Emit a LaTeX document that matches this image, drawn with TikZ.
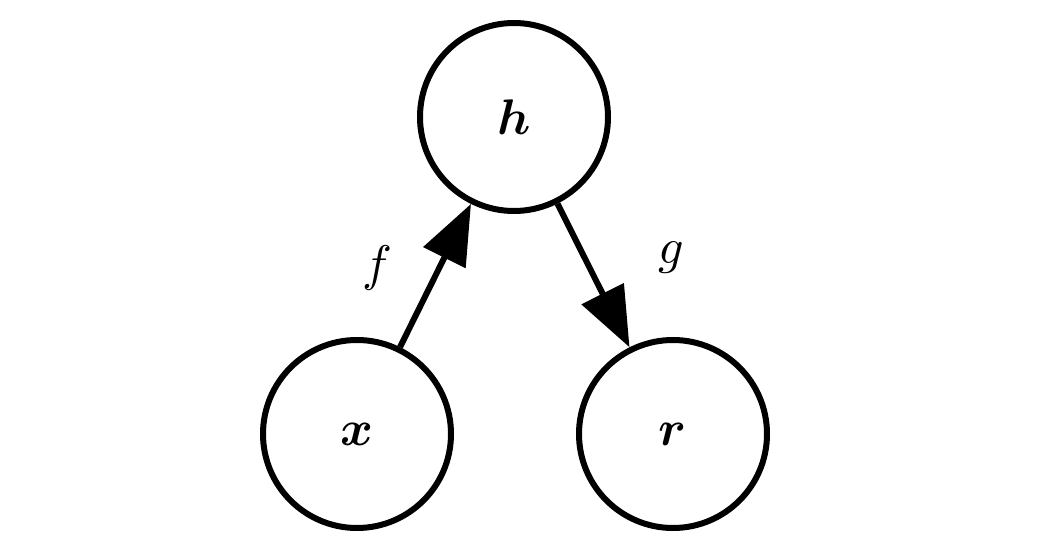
\documentclass[tikz,border=0pt]{standalone}
\usepackage{amsmath}
\usetikzlibrary{arrows.meta}
\begin{document}
\begin{tikzpicture}[x=1pt,y=-1pt,
  vtx/.style={circle,draw,line width=6pt,minimum size=188pt,inner sep=0pt},
  lbl/.style={scale=5},
  edge/.style={line width=6pt,-{Triangle[length=60pt,width=46pt]}}]
\useasboundingbox (0,0) rectangle (1041,545);
\node[vtx] (h) at (514,117) {};
\node[vtx] (x) at (357,434) {};
\node[vtx] (r) at (673,434) {};
\node[lbl] at (h) {$\boldsymbol{h}$};
\node[lbl] at (x) {$\boldsymbol{x}$};
\node[lbl] at (r) {$\boldsymbol{r}$};
\draw[edge] (x) -- (h);
\draw[edge] (h) -- (r);
\node[lbl] (f) at (377,268) {$f$};
\node[lbl] (g) at (671,258) {$g$};
\end{tikzpicture}
\end{document}
